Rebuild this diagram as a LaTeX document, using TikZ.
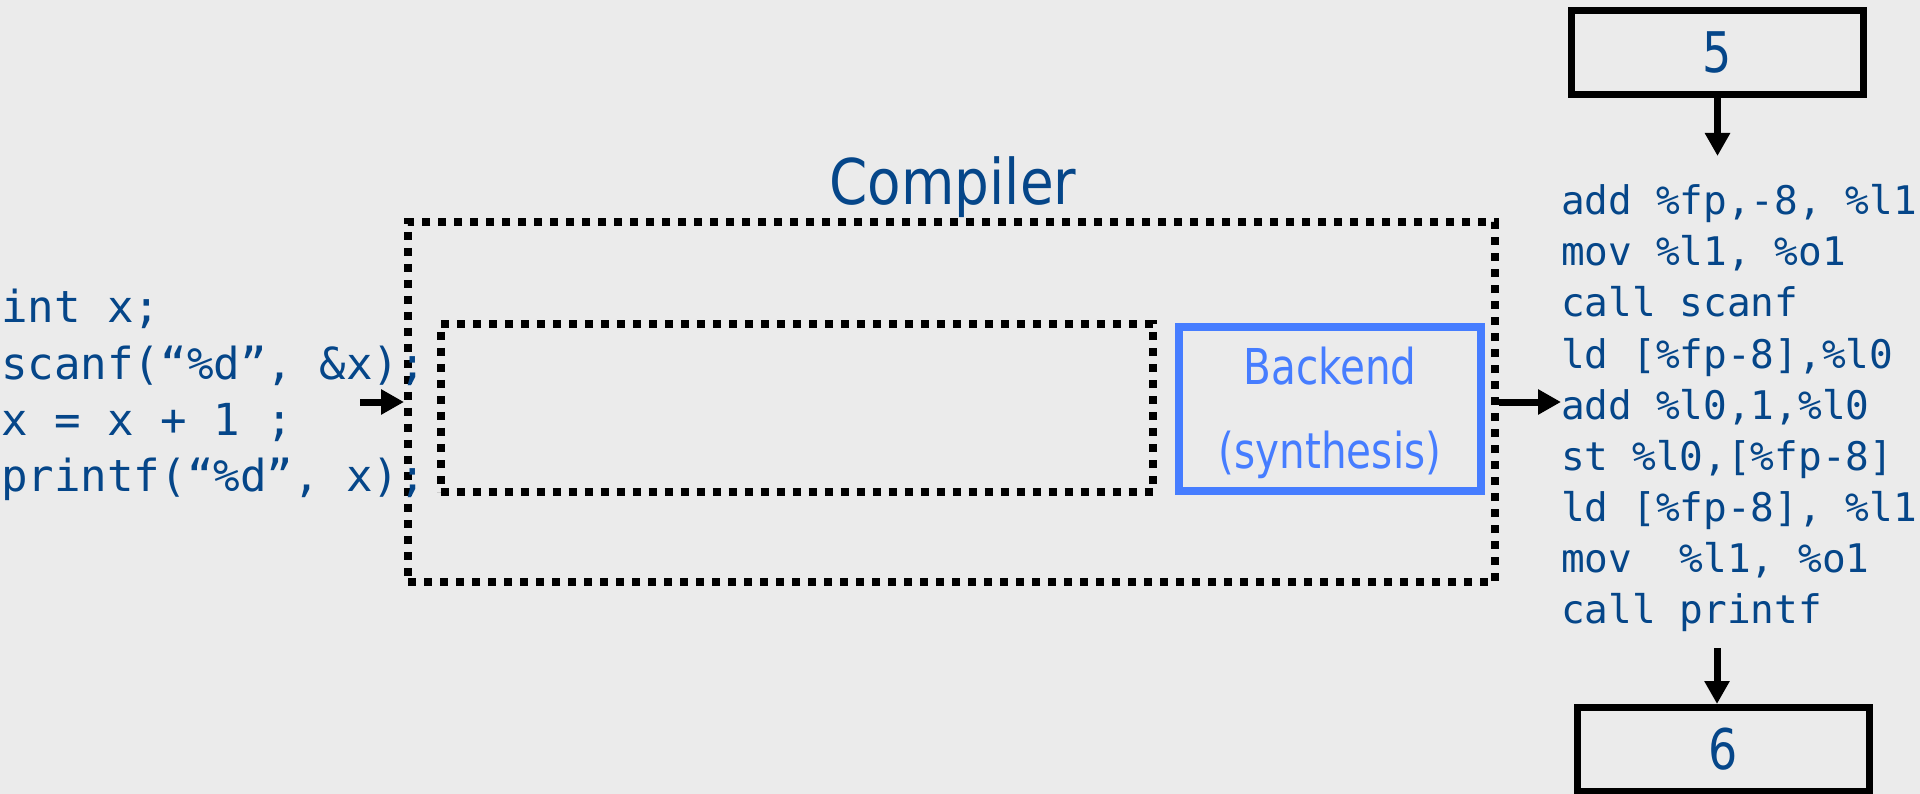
\documentclass[tikz,border=0pt]{standalone}
\usepackage{fontspec}
\setmonofont{DejaVu Sans Mono}
\newfontfamily\compfont[FakeStretch=0.87]{DejaVu Sans}
\newfontfamily\bkfont[FakeStretch=0.82]{DejaVu Sans}
\usetikzlibrary{arrows.meta}
\definecolor{bgc}{RGB}{235,235,235}
\definecolor{txtblue}{RGB}{5,70,137}
\definecolor{bkblue}{RGB}{70,125,255}
\frenchspacing
\begin{document}
\begin{tikzpicture}[x=1pt,y=-1pt,
  dotbox/.style={draw=black, line width=8pt, dash pattern=on 8pt off 8pt, inner sep=0pt},
  srcline/.style={font=\fontsize{44.1}{56}\selectfont\ttfamily, text=txtblue, anchor=base west, inner sep=0pt},
  asmline/.style={font=\fontsize{39.4}{51}\selectfont\ttfamily, text=txtblue, anchor=base west, inner sep=0pt},
  numbox/.style={draw=black, line width=7pt, minimum width=292pt, minimum height=84pt, inner sep=0pt,
    font=\bkfont\fontsize{56}{60}\selectfont, text=txtblue},
  arr/.style={line width=7pt, -{Triangle[width=24pt,length=23pt]}}
]
\useasboundingbox (0,0) rectangle (1920,794);
\fill[bgc] (0,0) rectangle (1920,794);

% title
\node[font=\compfont\fontsize{63}{70}\selectfont, text=txtblue, anchor=base, inner sep=0pt] (title) at (953,205) {Compiler};

% compiler boxes
\node[dotbox, minimum width=1087pt, minimum height=360pt] (comp) at (951.5,402) {};
\node[dotbox, minimum width=712pt, minimum height=168pt] (front) at (796.7,408) {};
\node[draw=bkblue, line width=8pt, minimum width=302pt, minimum height=164pt, inner sep=0pt] (backend) at (1330,409) {};
\node[align=center, text=bkblue, inner sep=0pt, font=\bkfont\fontsize{49.4}{84}\selectfont] (backendtxt) at (1330,413) {Backend\\(synthesis)};

% source code
\node[srcline] (src1) at (1,323) {int x;};
\node[srcline] (src2) at (1,379) {scanf(“\%d”, \&x);};
\node[srcline] (src3) at (1,435) {x = x + 1 ;};
\node[srcline] (src4) at (1,491) {printf(“\%d”, x);};

% assembly
\node[asmline] (asm1) at (1561,215) {add \%fp,-8, \%l1};
\node[asmline] (asm2) at (1561,266) {mov \%l1, \%o1};
\node[asmline] (asm3) at (1561,317) {call scanf};
\node[asmline] (asm4) at (1561,368) {ld [\%fp-8],\%l0};
\node[asmline] (asm5) at (1561,419) {add \%l0,1,\%l0};
\node[asmline] (asm6) at (1561,470) {st \%l0,[\%fp-8]};
\node[asmline] (asm7) at (1561,521) {ld [\%fp-8], \%l1};
\node[asmline] (asm8) at (1561,572) {mov\ \ \%l1, \%o1};
\node[asmline] (asm9) at (1561,623) {call printf};

% number boxes
\node[numbox] (box5) at (1717.5,52.5) {5};
\node[numbox] (box6) at (1723,749.5) {6};

% connectors
\coordinate (intail) at (360,402);
\draw[arr] (intail) -- (comp.west);
\draw[arr] (comp.east) -- (comp.east -| asm5.west);
\coordinate (a5tip) at (1717.5,156);
\draw[arr] (box5.south) -- (a5tip);
\coordinate (a6tail) at (1717,648);
\draw[arr] (a6tail) -- (a6tail |- box6.north);
\end{tikzpicture}
\end{document}
